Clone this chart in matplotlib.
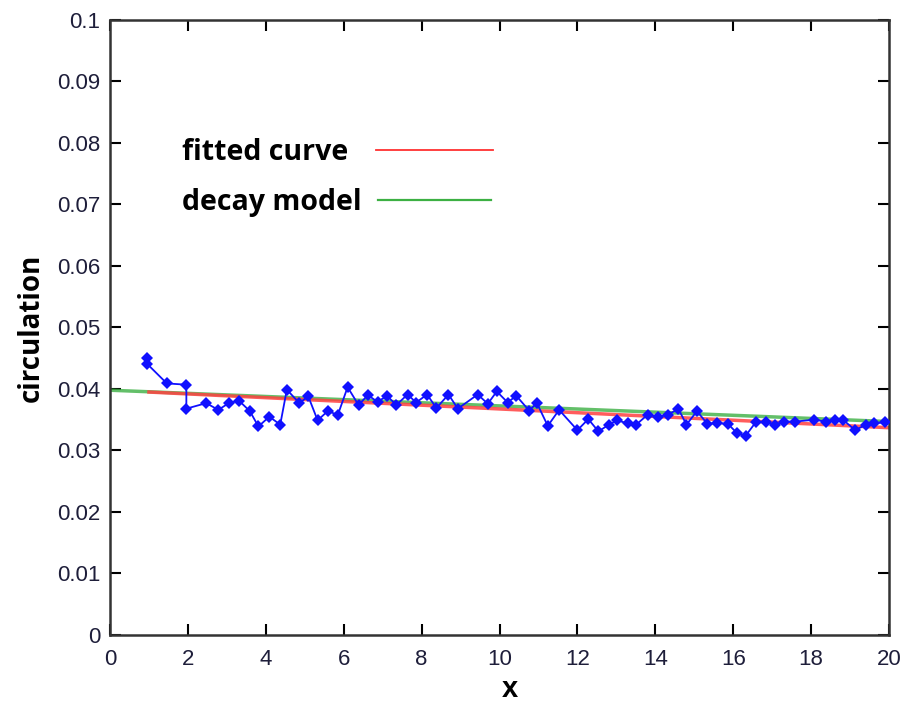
import numpy as np
import matplotlib
matplotlib.use('Agg')
import matplotlib.pyplot as plt

matplotlib.rcParams['font.family'] = ['Liberation Sans', 'DejaVu Sans']

# measured circulation samples
x_meas = [0.95, 0.95, 1.46, 1.96, 1.96, 2.47, 2.78, 3.05, 3.31, 3.59, 3.81, 4.09,
          4.37, 4.54, 4.86, 5.09, 5.33, 5.59, 5.85, 6.10, 6.38, 6.62, 6.87, 7.11,
          7.35, 7.64, 7.86, 8.14, 8.38, 8.69, 8.93, 9.44, 9.70, 9.93, 10.21, 10.43,
          10.76, 10.96, 11.24, 11.53, 12.00, 12.28, 12.54, 12.81, 13.02, 13.29, 13.51,
          13.80, 14.06, 14.33, 14.59, 14.80, 15.07, 15.34, 15.58, 15.87, 16.10, 16.32,
          16.58, 16.85, 17.07, 17.31, 17.59, 18.08, 18.38, 18.61, 18.82, 19.13, 19.41,
          19.62, 19.90]
y_meas = [0.0451, 0.0441, 0.0409, 0.0407, 0.0368, 0.0377, 0.0366, 0.0377, 0.0381,
          0.0364, 0.0339, 0.0355, 0.0342, 0.0399, 0.0377, 0.0388, 0.0349, 0.0364,
          0.0358, 0.0403, 0.0374, 0.0390, 0.0379, 0.0389, 0.0374, 0.0391, 0.0378,
          0.0391, 0.0369, 0.0391, 0.0368, 0.0391, 0.0376, 0.0396, 0.0378, 0.0389,
          0.0365, 0.0377, 0.0340, 0.0366, 0.0333, 0.0351, 0.0331, 0.0342, 0.0349,
          0.0344, 0.0342, 0.0358, 0.0355, 0.0358, 0.0368, 0.0342, 0.0364, 0.0343,
          0.0345, 0.0343, 0.0328, 0.0324, 0.0346, 0.0346, 0.0342, 0.0347, 0.0347,
          0.0350, 0.0347, 0.0350, 0.0350, 0.0333, 0.0342, 0.0344, 0.0346]

# fitted curve and decay model end points
fit_x = [1.0, 20.0]
fit_y = [0.0395, 0.0337]
decay_x = [0.0, 20.0]
decay_y = [0.0398, 0.0347]

fig = plt.figure(figsize=(9.04, 7.06), dpi=100)
ax = fig.add_axes([0.1217, 0.1006, 0.8617, 0.8711])

ax.plot(decay_x, decay_y, color='#3cb043', lw=2.5, alpha=0.8, zorder=2)
ax.plot(fit_x, fit_y, color='#ff4040', lw=2.5, alpha=0.85, zorder=2)
ax.plot(x_meas, y_meas, color='#1010ff', lw=1.3, marker='D', ms=6,
        markeredgewidth=0, zorder=3)

ax.set_xlim(0, 20)
ax.set_ylim(0, 0.1)
ax.set_xticks(np.arange(0, 21, 2))
ax.set_yticks(np.arange(0, 0.101, 0.01))
ax.set_yticklabels(['0', '0.01', '0.02', '0.03', '0.04', '0.05', '0.06',
                    '0.07', '0.08', '0.09', '0.1'])
ax.tick_params(direction='in', length=8, width=1.5, top=True, right=True,
               labelsize=16, labelcolor='#1e1e3a')
ax.tick_params(axis='x', pad=10)
ax.tick_params(axis='y', pad=7)
for s in ax.spines.values():
    s.set_linewidth(1.8)
    s.set_color('#333333')

ax.set_ylabel('circulation', fontsize=20, fontweight='bold',
              family=['Open Sans', 'DejaVu Sans'], labelpad=8)
ax.set_xlabel('x', fontsize=21, fontweight='bold')
ax.xaxis.set_label_coords(0.514, -0.065)

# legend drawn by hand
legend_font = dict(fontsize=20.5, fontweight='bold', family=['Open Sans', 'DejaVu Sans'],
                   va='center', ha='left', transform=ax.transAxes)
ax.text(0.093, 0.785, 'fitted curve', **legend_font)
ax.text(0.093, 0.704, 'decay model', **legend_font)
ax.plot([0.341, 0.492], [0.788, 0.788], color='#ff3030', lw=1.3, transform=ax.transAxes)
ax.plot([0.344, 0.489], [0.707, 0.707], color='#3cb043', lw=1.6, transform=ax.transAxes)

fig.savefig('out.png', dpi=100)
